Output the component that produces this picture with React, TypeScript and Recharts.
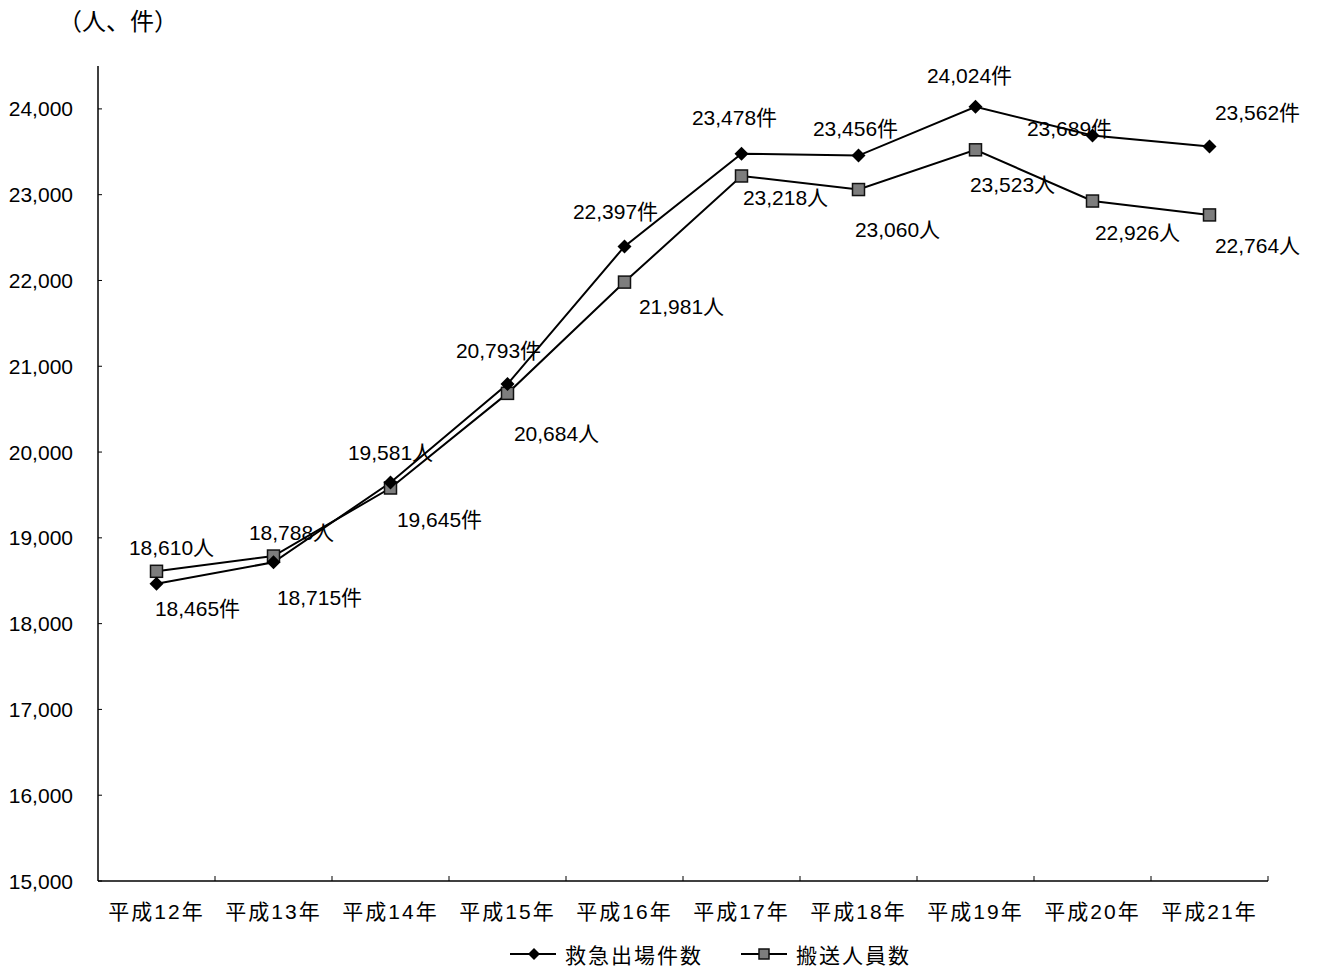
import { LineChart, Line, XAxis, YAxis, LabelList } from "recharts";

const years = ["平成12年", "平成13年", "平成14年", "平成15年", "平成16年", "平成17年", "平成18年", "平成19年", "平成20年", "平成21年"];
const dispatchCounts = [18465, 18715, 19645, 20793, 22397, 23478, 23456, 24024, 23689, 23562];
const transportedPeople = [18610, 18788, 19581, 20684, 21981, 23218, 23060, 23523, 22926, 22764];
const yTicks = [15000, 16000, 17000, 18000, 19000, 20000, 21000, 22000, 23000, 24000];

// label offsets from each point (centre of text)
const dispatchLabelOffsets: [number, number][] = [
    [41, 25], [46, 35], [49, 37], [-9, -34], [-9, -35],
    [-7, -36], [-3, -27], [-6, -31], [-23, -7], [48, -34],
];
const peopleLabelOffsets: [number, number][] = [
    [15, -24], [18, -24], [0, -35], [49, 40], [57, 24],
    [44, 22], [39, 40], [37, 35], [45, 31], [48, 31],
];

const data = years.map((year, i) => ({
    year,
    dispatch: dispatchCounts[i],
    people: transportedPeople[i],
}));

const FONT = "'Liberation Sans', 'Noto Sans CJK JP', sans-serif";
const WIDTH = 1319;
const HEIGHT = 969;
const MARGIN = { top: 66, right: 51, bottom: 58, left: 0 };
const BAND = (WIDTH - 98 - MARGIN.right) / years.length;

const Diamond = ({ cx, cy, size = 7 }: { cx: number; cy: number; size?: number }) => (
    <path d={`M${cx},${cy - size}L${cx + size},${cy}L${cx},${cy + size}L${cx - size},${cy}Z`} fill="#000" />
);

const Square = ({ cx, cy, size = 6 }: { cx: number; cy: number; size?: number }) => (
    <rect x={cx - size} y={cy - size} width={size * 2} height={size * 2} fill="#7d7d7d" stroke="#111" strokeWidth={1.5} />
);

const YTick = ({ x, y, payload }: any) => (
    <g>
        <line x1={x} x2={x + 4} y1={y} y2={y} stroke="#000" />
        <text x={x - 25} y={y} textAnchor="end" dominantBaseline="central" fontSize={21} fontFamily={FONT} fill="#000">
            {payload.value.toLocaleString("en-US")}
        </text>
    </g>
);

const XTick = ({ x, y, payload, index }: any) => (
    <g>
        {index > 0 && <line x1={x - BAND / 2} x2={x - BAND / 2} y1={y} y2={y - 5} stroke="#000" />}
        {index === years.length - 1 && <line x1={x + BAND / 2} x2={x + BAND / 2} y1={y} y2={y - 5} stroke="#000" />}
        <text x={x} y={y + 30} textAnchor="middle" dominantBaseline="central" fontSize={21} letterSpacing={2} fontFamily={FONT} fill="#000">
            {payload.value}
        </text>
    </g>
);

const makeLabel = (offsets: [number, number][], unit: string) => (props: any) => {
    const { x, y, value, index } = props;
    const [dx, dy] = offsets[index];
    return (
        <text x={x + dx} y={y + dy} textAnchor="middle" dominantBaseline="central" fontSize={21} fontFamily={FONT} fill="#000">
            {Number(value).toLocaleString("en-US")}
            {unit}
        </text>
    );
};

export default function App() {
    return (
        <div style={{ position: "absolute", left: 0, top: 0, width: WIDTH, height: HEIGHT, background: "#fff", fontFamily: FONT }}>
            <div style={{ position: "absolute", left: 58, top: 4, fontSize: 24, lineHeight: "36px", color: "#000" }}>（人、件）</div>
            <LineChart width={WIDTH} height={HEIGHT} data={data} margin={MARGIN}>
                <XAxis
                    dataKey="year"
                    scale="band"
                    height={30}
                    axisLine={{ stroke: "#000", strokeWidth: 1.5 }}
                    tickLine={false}
                    tickSize={0}
                    tickMargin={0}
                    tick={<XTick />}
                    interval={0}
                />
                <YAxis
                    width={98}
                    domain={[15000, 24500]}
                    ticks={yTicks}
                    axisLine={{ stroke: "#000", strokeWidth: 1.5 }}
                    tickLine={false}
                    tickSize={0}
                    tickMargin={0}
                    tick={<YTick />}
                    interval={0}
                />
                <Line
                    dataKey="people"
                    stroke="#000"
                    strokeWidth={2}
                    dot={(p: any) => <Square key={`s${p.index}`} cx={p.cx} cy={p.cy} />}
                    isAnimationActive={false}
                >
                    <LabelList dataKey="people" content={makeLabel(peopleLabelOffsets, "人")} />
                </Line>
                <Line
                    dataKey="dispatch"
                    stroke="#000"
                    strokeWidth={2}
                    dot={(p: any) => <Diamond key={`d${p.index}`} cx={p.cx} cy={p.cy} />}
                    isAnimationActive={false}
                >
                    <LabelList dataKey="dispatch" content={makeLabel(dispatchLabelOffsets, "件")} />
                </Line>
            </LineChart>
            <div style={{ position: "absolute", top: 939, left: 508, display: "flex", alignItems: "center", fontSize: 21, color: "#000" }}>
                <svg width={50} height={28}>
                    <line x1={2} x2={48} y1={14} y2={14} stroke="#000" strokeWidth={2} />
                    <Diamond cx={26} cy={14} size={6} />
                </svg>
                <span style={{ marginLeft: 7, letterSpacing: 2 }}>救急出場件数</span>
                <svg width={50} height={28} style={{ marginLeft: 36 }}>
                    <line x1={2} x2={48} y1={14} y2={14} stroke="#000" strokeWidth={2} />
                    <Square cx={25} cy={14} size={5} />
                </svg>
                <span style={{ marginLeft: 7, letterSpacing: 2 }}>搬送人員数</span>
            </div>
        </div>
    );
}
